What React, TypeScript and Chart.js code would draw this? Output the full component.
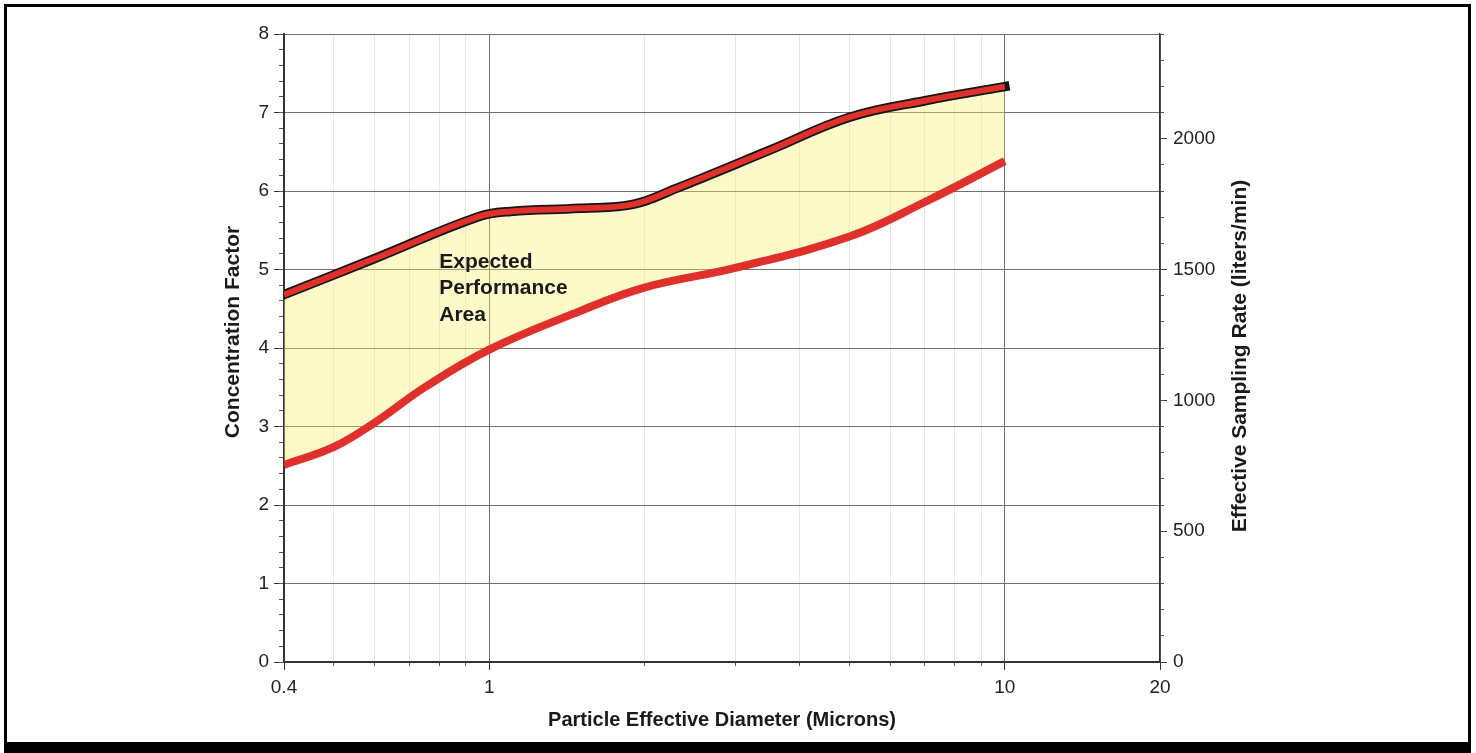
import React, { useEffect, useRef } from 'react';
import { Chart, registerables } from 'chart.js';

Chart.register(...registerables);

// ---- data ----
const UPPER_X = [0.4, 0.6, 0.95, 1.1, 1.5, 1.9, 2.3, 3.5, 5, 7, 10];
const UPPER_CF = [4.68, 5.14, 5.67, 5.74, 5.78, 5.83, 6.03, 6.52, 6.94, 7.15, 7.33];
const LOWER_X = [0.4, 0.5, 0.6, 0.75, 1, 1.5, 2, 3, 5, 7, 10];
const LOWER_CF = [2.51, 2.74, 3.05, 3.5, 3.98, 4.47, 4.77, 5.02, 5.42, 5.86, 6.38];

const X_MAJOR_TICKS = [0.4, 1, 10, 20];
const X_MINOR_TICKS = [0.5, 0.6, 0.7, 0.8, 0.9, 2, 3, 4, 5, 6, 7, 8, 9];
const RIGHT_TICKS = [0, 500, 1000, 1500, 2000];

const X_TITLE = 'Particle Effective Diameter (Microns)';
const Y_TITLE = 'Concentration Factor';
const Y2_TITLE = 'Effective Sampling Rate (liters/min)';
const ANNOTATION_LINES = ['Expected', 'Performance', 'Area'];
const ANNOTATION_AT = { x: 0.8, y: 5.02 };

const FONT = "'Liberation Sans', Arial, Helvetica, sans-serif";

export default function App() {
  const ref = useRef<HTMLCanvasElement>(null);

  useEffect(() => {
    const canvas = ref.current;
    if (!canvas) return;
    const upper = UPPER_X.map((x, i) => ({ x, y: UPPER_CF[i] }));
    const lower = LOWER_X.map((x, i) => ({ x, y: LOWER_CF[i] }));

    const overlay = {
      id: 'overlay',
      afterDraw(chart: any) {
        const { ctx, chartArea, scales } = chart;
        const midY = (chartArea.top + chartArea.bottom) / 2;
        ctx.save();
        ctx.fillStyle = '#1a1a1a';
        ctx.font = `bold 21px ${FONT}`;
        ctx.textAlign = 'center';
        ctx.textBaseline = 'middle';
        // left axis title
        ctx.save();
        ctx.translate(chartArea.left - 51, midY - 16);
        ctx.rotate(-Math.PI / 2);
        ctx.fillText(Y_TITLE, 0, 0);
        ctx.restore();
        // right axis title
        ctx.save();
        ctx.translate(chartArea.right + 80, midY + 8);
        ctx.rotate(-Math.PI / 2);
        ctx.fillText(Y2_TITLE, 0, 0);
        ctx.restore();
        ctx.restore();

        ctx.save();
        ctx.fillStyle = '#1a1a1a';
        ctx.font = `bold 21px ${FONT}`;
        ctx.textAlign = 'left';
        ctx.textBaseline = 'alphabetic';
        const ax = scales.x.getPixelForValue(ANNOTATION_AT.x);
        const ay = scales.y.getPixelForValue(ANNOTATION_AT.y);
        ANNOTATION_LINES.forEach((t, i) => ctx.fillText(t, ax, ay + i * 26.5));
        ctx.restore();
      },
    };

    const tickFont = { family: FONT, size: 19 };
    const lineCommon = {
      xAxisID: 'x',
      yAxisID: 'y',
      pointRadius: 0,
      tension: 0.4,
      clip: 0,
    };
    const chart = new Chart(canvas, {
      type: 'line',
      data: {
        datasets: [
          {
            ...lineCommon,
            label: 'Upper',
            data: upper,
            borderColor: '#e0302b',
            borderWidth: 6,
            fill: false,
            order: 0,
            borderCapStyle: 'butt',
          },
          {
            ...lineCommon,
            label: 'Upper outline',
            data: upper,
            borderColor: '#151515',
            borderWidth: 9.5,
            fill: 2,
            backgroundColor: 'rgba(250,238,110,0.38)',
            order: 1,
            borderCapStyle: 'square',
          },
          {
            ...lineCommon,
            label: 'Lower',
            data: lower,
            borderColor: '#e0302b',
            borderWidth: 8,
            fill: false,
            order: 2,
            borderCapStyle: 'butt',
          },
        ] as any,
      },
      options: {
        responsive: false,
        animation: false,
        layout: { padding: { left: 215, right: 16, top: 34, bottom: 15 } },
        plugins: {
          legend: { display: false },
          tooltip: { enabled: false },
          filler: { drawTime: 'beforeDatasetsDraw' },
        } as any,
        scales: {
          x: {
            axis: 'x',
            type: 'logarithmic',
            position: 'bottom',
            weight: 0,
            min: 0.4,
            max: 20,
            afterBuildTicks: (s: any) => {
              s.ticks = X_MAJOR_TICKS.map((v) => ({ value: v }));
            },
            afterFit: (s: any) => {
              s.height = 76;
            },
            ticks: {
              autoSkip: false,
              maxRotation: 0,
              minRotation: 0,
              padding: 6,
              color: '#222',
              font: tickFont,
              callback: (v: any) => String(v),
            },
            grid: { color: '#6f6f6f', lineWidth: 1, tickLength: 8, tickColor: '#333' },
            border: { display: true, color: '#333', width: 2 },
            title: {
              display: true,
              text: X_TITLE,
              color: '#1a1a1a',
              font: { family: FONT, size: 20, weight: 'bold' },
              padding: { top: 0, bottom: 6 },
            },
          },
          xMinor: {
            axis: 'x',
            type: 'logarithmic',
            position: 'bottom',
            weight: -1,
            min: 0.4,
            max: 20,
            afterBuildTicks: (s: any) => {
              s.ticks = X_MINOR_TICKS.map((v) => ({ value: v }));
            },
            afterFit: (s: any) => {
              s.height = 0;
            },
            ticks: { display: false },
            grid: { color: '#e6e6e6', lineWidth: 1, tickLength: 4, tickColor: '#555' },
            border: { display: false },
          },
          y: {
            axis: 'y',
            type: 'linear',
            position: 'left',
            weight: 0,
            min: 0,
            max: 8,
            afterFit: (s: any) => {
              s.width = 69;
            },
            ticks: { stepSize: 1, padding: 5, color: '#222', font: tickFont },
            grid: { color: '#6f6f6f', lineWidth: 1, tickLength: 10, tickColor: '#333' },
            border: { display: true, color: '#333', width: 2 },
          },
          yMinor: {
            axis: 'y',
            type: 'linear',
            position: 'left',
            weight: -1,
            min: 0,
            max: 8,
            afterFit: (s: any) => {
              s.width = 0;
            },
            ticks: { display: false, stepSize: 0.2 },
            grid: { drawOnChartArea: false, tickLength: 5, tickColor: '#555' },
            border: { display: false },
          },
          y2: {
            axis: 'y',
            type: 'linear',
            position: 'right',
            weight: 0,
            min: 0,
            max: 2400,
            afterBuildTicks: (s: any) => {
              s.ticks = RIGHT_TICKS.map((v) => ({ value: v }));
            },
            afterFit: (s: any) => {
              s.width = 300;
            },
            ticks: { padding: 6, color: '#222', font: tickFont, callback: (v: any) => String(v) },
            grid: { drawOnChartArea: false, tickLength: 7, tickColor: '#333' },
            border: { display: true, color: '#333', width: 1.5 },
          },
          y2Minor: {
            axis: 'y',
            type: 'linear',
            position: 'right',
            weight: -1,
            min: 0,
            max: 2400,
            afterFit: (s: any) => {
              s.width = 0;
            },
            ticks: { display: false, stepSize: 100 },
            grid: { drawOnChartArea: false, tickLength: 4, tickColor: '#555' },
            border: { display: false },
          },
        } as any,
      },
      plugins: [overlay],
    });

    return () => chart.destroy();
  }, []);

  return (
    <div
      style={{
        position: 'absolute',
        left: 0,
        top: 0,
        width: 1476,
        height: 753,
        overflow: 'hidden',
        background: '#fff',
      }}
    >
      <canvas ref={ref} width={1476} height={753} style={{ display: 'block', width: 1476, height: 753 }} />
      <div
        style={{
          position: 'absolute',
          left: 4,
          top: 4,
          width: 1467,
          height: 749,
          boxSizing: 'border-box',
          borderTop: '3.4px solid #000',
          borderLeft: '3.4px solid #000',
          borderRight: '3.4px solid #000',
          borderBottom: '11px solid #000',
          pointerEvents: 'none',
        }}
      />
    </div>
  );
}
